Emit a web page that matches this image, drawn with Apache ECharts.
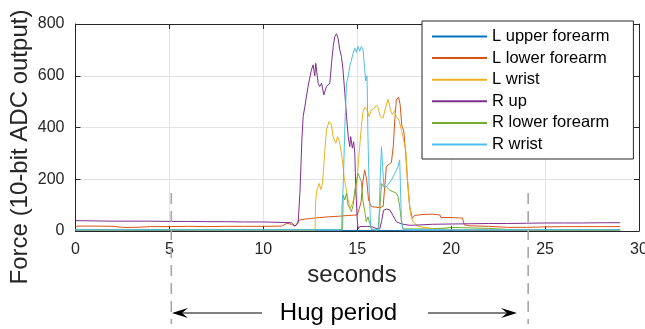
<!DOCTYPE html>
<html><head><meta charset="utf-8">
<script src="https://cdn.jsdelivr.net/npm/echarts@6/dist/echarts.min.js"></script>
<style>html,body{margin:0;padding:0;background:#fff}#c{width:645px;height:329px}</style>
</head><body><div id="c"></div>
<script>
// ---- data (seconds, ADC values) ----
const seriesNames = ['L upper forearm','L lower forearm','L wrist','R up','R lower forearm','R wrist'];
const seriesColors = ['#0072BD','#D95319','#EDB120','#7E2F8E','#77AC30','#4DBEEE'];
const xTickValues = [0,5,10,15,20,25,30];
const yTickValues = [0,200,400,600,800];
const hugStart = 5.1, hugEnd = 24.1;

const lUpperT = [0,2,4,6,8,10,12,14,14.2,15,16,17,18,20,22,25,27,29];
const lUpperV = [3,3,2,3,3,3,3,3,2,2,2,2,3,3,3,3,3,3];

const lLowerT = [0,1,2,2.5,3,3.5,4,5,6,7,8,9,10,11,11.25,11.5,11.7,11.9,12.2,12.5,13,13.5,14,14.5,15,15.1,15.2,15.3,15.39,15.5,15.6,15.75,16,16.2,16.38,16.46,16.55,16.7,16.82,16.92,17.0,17.08,17.2,17.28,17.38,17.47,17.58,17.67,17.79,17.93,18.05,18.5,19,19.4,19.45,20,20.6,20.7,21,22,23,24,25,26,27,28,29];
const lLowerV = [19,19,18,14,14,15,17,17,18,17,18,18,18,19,30,26,19,42,46,48,52,55,57,60,62,55,110,190,236,200,120,94,92,90,95,94,250,258,265,330,430,506,517,490,403,390,300,197,94,49,60,64,65,62,52,52,50,24,20,18,14,14,16,17,17,17,17];

const lWristT = [0,5,10,12,12.75,12.79,12.85,12.97,13.06,13.15,13.24,13.36,13.5,13.63,13.71,13.86,13.95,14.03,14.13,14.21,14.3,14.39,14.51,14.64,14.74,14.87,14.99,15.1,15.22,15.31,15.4,15.52,15.63,15.75,15.88,16.02,16.1,16.23,16.37,16.52,16.64,16.77,16.87,16.99,17.08,17.22,17.35,17.47,17.58,17.67,17.76,17.85,17.97,18.2,18.5,19,20,21,22,25,29];
const lWristV = [4,4,4,4,4,120,158,184,160,184,275,391,423,410,365,339,365,352,313,275,210,171,120,88,85,133,197,300,403,461,478,470,442,468,472,487,478,442,436,480,509,468,450,465,442,429,391,352,313,210,120,62,36,20,14,10,6,5,5,4,4];

const rUpT = [0,1,2,3,4,5,6,7,8,9,10,11,11.5,11.68,11.78,11.85,11.95,12.05,12.12,12.21,12.38,12.56,12.65,12.74,12.79,12.92,13.0,13.1,13.22,13.36,13.54,13.63,13.72,13.8,13.89,13.98,14.07,14.16,14.24,14.34,14.43,14.52,14.6,14.65,14.74,14.81,14.87,14.92,15.0,15.05,15.13,15.5,15.8,16.0,16.2,16.3,16.4,16.55,16.73,16.9,17.08,17.26,17.44,17.8,18.5,19,20,21,22,23,24,25,26,27,28,29];
const rUpV = [40,39,38,38,38,37,37,36,36,35,35,33,32,19,25,30,150,350,442,481,558,623,642,600,648,571,558,571,526,558,571,648,713,751,762,745,700,674,623,532,442,365,326,365,320,345,300,171,42,8,17,18,16,10,8,40,80,85,82,60,36,30,26,22,24,26,27,28,29,29,30,31,31,31,32,32];

const rLowerT = [0,5,10,12,14,14.22,14.25,14.34,14.43,14.51,14.6,14.69,14.78,14.87,14.96,15.04,15.13,15.22,15.31,15.4,15.48,15.57,15.66,15.75,15.93,16.1,16.2,16.29,16.41,16.55,16.73,16.9,17.08,17.17,17.26,17.35,17.44,18,19,19.5,20,21,22,23,25,29];
const rLowerV = [6,6,6,6,6,6,139,120,146,100,95,75,100,158,190,223,229,191,113,75,36,55,30,10,3,3,81,184,171,171,158,152,146,133,94,40,8,8,8,10,14,12,10,6,5,5];

const rWristT = [0,5,10,12,14,14.17,14.19,14.25,14.34,14.43,14.52,14.6,14.69,14.78,14.87,14.96,15.04,15.13,15.22,15.31,15.4,15.45,15.52,15.57,15.63,15.7,15.75,16.15,16.22,16.29,16.35,16.42,16.55,16.64,16.82,17.0,17.17,17.26,17.3,17.35,17.44,18,20,22,25,29];
const rWristV = [5,5,5,5,5,5,100,171,404,571,597,636,661,687,706,690,713,695,713,700,623,580,600,365,171,42,5,5,200,326,250,171,171,171,197,223,249,275,171,42,5,5,5,5,5,5];

const seriesT = [lUpperT,lLowerT,lWristT,rUpT,rLowerT,rWristT];
const seriesV = [lUpperV,lLowerV,lWristV,rUpV,rLowerV,rWristV];

const chart = echarts.init(document.getElementById('c'), null, {renderer:'canvas'});
const font = 'Liberation Sans, Arial, Helvetica, sans-serif';
const axisCol = '#262626';

const series = seriesNames.map((n,k)=>({
  name:n, type:'line', showSymbol:false, symbol:'none',
  data: seriesT[k].map((t,i)=>[t, seriesV[k][i]]),
  lineStyle:{width:1, color:seriesColors[k]}, itemStyle:{color:seriesColors[k]},
  animation:false, z:2
}));

const baseX = {type:'value', min:0, max:30, interval:5};
const baseY = {type:'value', min:0, max:800, interval:200};

chart.setOption({
  animation:false,
  textStyle:{fontFamily:font},
  grid:{left:75.5, right:6, top:24, bottom:98, containLabel:false, outerBoundsMode:'none'},
  xAxis:[
    Object.assign({}, baseX, {position:'bottom',
      axisLine:{show:true, lineStyle:{color:axisCol, width:1}},
      axisTick:{show:true, inside:true, length:5, lineStyle:{color:axisCol}},
      axisLabel:{fontSize:16, color:axisCol, margin:11, fontFamily:font},
      splitLine:{show:true, lineStyle:{color:'#e3e3e3', width:1}}}),
    Object.assign({}, baseX, {position:'top',
      axisLine:{show:true, onZero:false, lineStyle:{color:axisCol, width:1}},
      axisTick:{show:true, inside:true, length:5, lineStyle:{color:axisCol}},
      axisLabel:{show:false}, splitLine:{show:false}})
  ],
  yAxis:[
    Object.assign({}, baseY, {position:'left',
      axisLine:{show:true, lineStyle:{color:axisCol, width:1}},
      axisTick:{show:true, inside:true, length:5, lineStyle:{color:axisCol}},
      axisLabel:{fontSize:16, color:axisCol, margin:11, fontFamily:font},
      splitLine:{show:true, lineStyle:{color:'#e3e3e3', width:1}}}),
    Object.assign({}, baseY, {position:'right',
      axisLine:{show:true, onZero:false, lineStyle:{color:axisCol, width:1}},
      axisTick:{show:true, inside:true, length:5, lineStyle:{color:axisCol}},
      axisLabel:{show:false}, splitLine:{show:false}})
  ],
  legend:{
    data:seriesNames, orient:'vertical', left:422, top:21,
    padding:[7,24,6,10], itemGap:4.6, itemWidth:55, itemHeight:2, icon:'rect',
    backgroundColor:'#fff', borderColor:axisCol, borderWidth:1, borderRadius:0,
    textStyle:{fontSize:16.5, lineHeight:16, height:16, color:'#000', fontFamily:font},
    z:10
  },
  series: series
});

// ---- annotations: axis titles and hug period ----
const xs = chart.convertToPixel({xAxisIndex:0}, hugStart);
const xe = chart.convertToPixel({xAxisIndex:0}, hugEnd);
const ay = 313;
const dashStyle = {stroke:'#a6a6a6', lineWidth:1.6, lineDash:[11,7]};
const headL = 172, headR = 517;
chart.setOption({graphic:[
  {type:'text', z:20, x:20, y:147, rotation:Math.PI/2, style:{text:'Force (10-bit ADC output)', font:'24px '+font, fill:axisCol, textAlign:'center', textVerticalAlign:'middle'}},
  {type:'text', z:20, x:352, y:275, style:{text:'seconds', font:'24px '+font, fill:axisCol, textAlign:'center', textVerticalAlign:'middle'}},
  {type:'line', z:20, shape:{x1:xs, y1:193, x2:xs, y2:324}, style:dashStyle, silent:true},
  {type:'line', z:20, shape:{x1:xe, y1:193, x2:xe, y2:324}, style:dashStyle, silent:true},
  {type:'line', z:20, shape:{x1:headL+10, y1:ay, x2:262, y2:ay}, style:{stroke:'#000', lineWidth:1}},
  {type:'polygon', z:20, shape:{points:[[headL,ay],[headL+16,ay-5],[headL+10,ay],[headL+16,ay+5]]}, style:{fill:'#000'}},
  {type:'line', z:20, shape:{x1:428, y1:ay, x2:headR-10, y2:ay}, style:{stroke:'#000', lineWidth:1}},
  {type:'polygon', z:20, shape:{points:[[headR,ay],[headR-16,ay-5],[headR-10,ay],[headR-16,ay+5]]}, style:{fill:'#000'}},
  {type:'text', z:20, x:338.5, y:ay, style:{text:'Hug period', font:'24px '+font, fill:'#000', textAlign:'center', textVerticalAlign:'middle'}}
]});
</script></body></html>
